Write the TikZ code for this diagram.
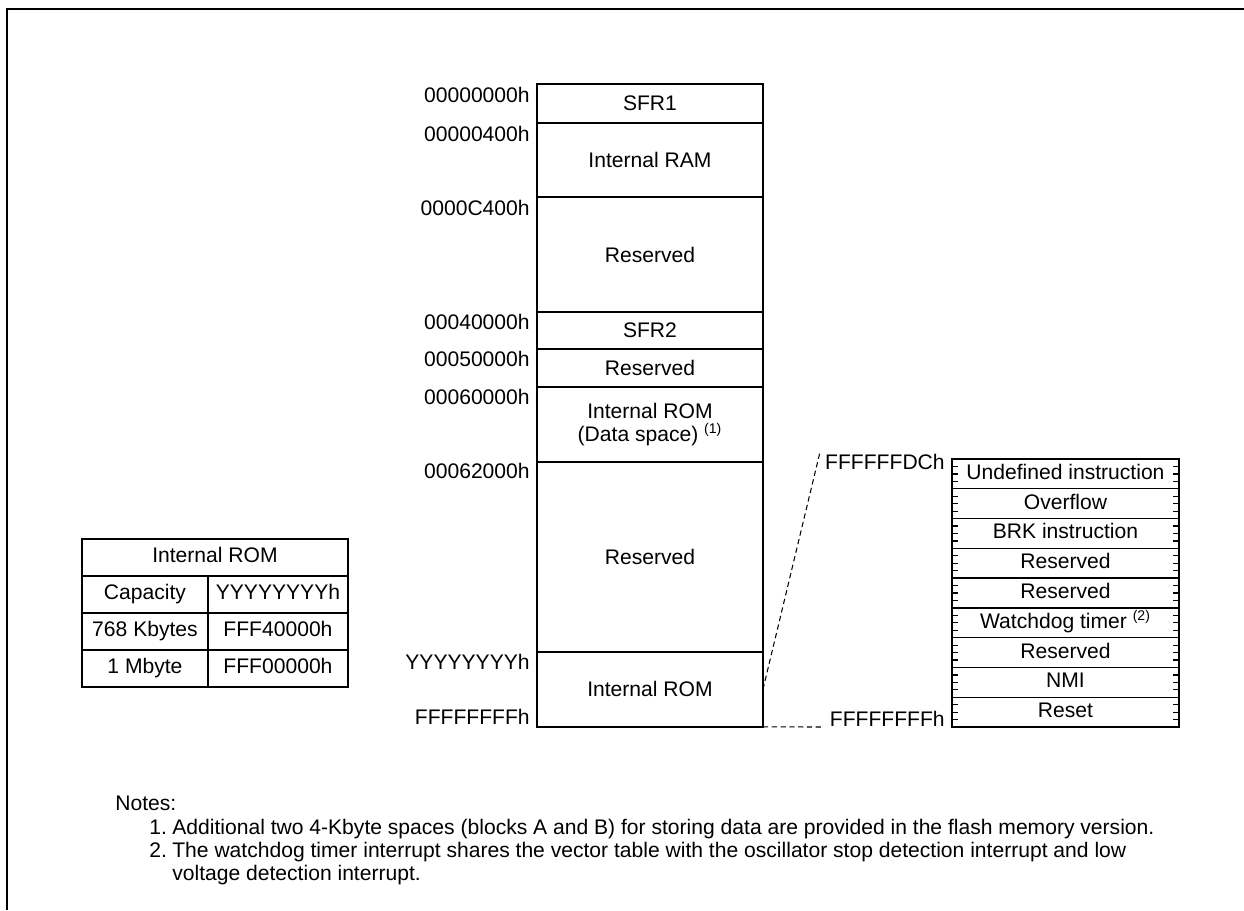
\documentclass[tikz,border=0pt]{standalone}
\usepackage{fontspec}
\setmainfont{Liberation Sans}
\usetikzlibrary{positioning}

\begin{document}
\begin{tikzpicture}[x=0.02cm,y=-0.02cm,
    every node/.style={font=\fontsize{12}{13}\selectfont},
    memrow/.style={draw,line width=0.8pt,minimum width=4.52cm,outer sep=0pt,inner sep=0pt,align=center},
    vecrow/.style={draw,line width=0.8pt,minimum width=4.54cm,minimum height=0.5956cm,outer sep=0pt,inner sep=0pt,text height=8.6pt,text depth=2.4pt},
    cell/.style={draw,line width=0.8pt,minimum height=0.74cm,outer sep=0pt,inner sep=0pt,text height=8.6pt,text depth=2.4pt},
    addr/.style={anchor=east,inner sep=0pt},
    notetext/.style={anchor=base west,inner sep=0pt}]
    \useasboundingbox (0,0) rectangle (1244,910);
    % frame
    \draw[line width=1.2pt] (7,910) -- (7,9) -- (1244,9);

    % memory map
    \node[memrow,minimum height=0.78cm,anchor=north west] (sfra) at (537,84) {SFR1};
    \node[memrow,minimum height=1.48cm,below=0pt of sfra] (iram) {Internal RAM};
    \node[memrow,minimum height=2.30cm,below=0pt of iram] (resa) {Reserved};
    \node[memrow,minimum height=0.74cm,below=0pt of resa] (sfrb) {SFR2};
    \node[memrow,minimum height=0.76cm,below=0pt of sfrb] (resb) {Reserved};
    \node[memrow,minimum height=1.50cm,below=0pt of resb] (romd) {Internal ROM\\(Data space) \textsuperscript{(1)}};
    \node[memrow,minimum height=3.80cm,below=0pt of romd] (resc) {Reserved};
    \node[memrow,minimum height=1.50cm,below=0pt of resc] (irom) {Internal ROM};

    \node[addr] (adra) at ([xshift=-0.14cm,yshift=-0.21cm]sfra.north west) {00000000h};
    \node[addr] (adrb) at ([xshift=-0.14cm,yshift=-0.21cm]iram.north west) {00000400h};
    \node[addr] (adrc) at ([xshift=-0.14cm,yshift=-0.21cm]resa.north west) {0000C400h};
    \node[addr] (adrd) at ([xshift=-0.14cm,yshift=-0.21cm]sfrb.north west) {00040000h};
    \node[addr] (adre) at ([xshift=-0.14cm,yshift=-0.21cm]resb.north west) {00050000h};
    \node[addr] (adrf) at ([xshift=-0.14cm,yshift=-0.21cm]romd.north west) {00060000h};
    \node[addr] (adrg) at ([xshift=-0.14cm,yshift=-0.19cm]resc.north west) {00062000h};
    \node[addr] (adrh) at ([xshift=-0.14cm,yshift=-0.19cm]irom.north west) {YYYYYYYYh};
    \node[addr] (adri) at ([xshift=-0.14cm,yshift=0.20cm]irom.south west) {FFFFFFFFh};

    % vector table
    \foreach \txt [count=\i] in {Undefined instruction,Overflow,BRK instruction,Reserved,Reserved,{Watchdog timer \textsuperscript{(2)}},Reserved,NMI,Reset}
        \node[vecrow,anchor=north west] (v\i) at (952,{459+29.78*(\i-1)}) {\txt};
    \foreach \i in {1,...,9}
        \foreach \f in {0.25,0.5,0.75} {
            \draw[line width=0.7pt] ([yshift=-\f*0.5956cm]v\i.north west) -- ++(6,0);
            \draw[line width=0.7pt] ([yshift=-\f*0.5956cm]v\i.north east) -- ++(-6,0);
        }
    \node[addr] (vtop) at ([xshift=-0.14cm,yshift=-0.05cm]v1.north west) {FFFFFFDCh};
    \node[addr] (vbot) at ([xshift=-0.14cm,yshift=0.17cm]v9.south west) {FFFFFFFFh};

    \coordinate (dtop) at (820,452);
    \coordinate (dbot) at (821,727);
    \draw[line width=0.6pt,dash pattern=on 3pt off 2pt] (irom.east) -- (dtop);
    \draw[line width=0.6pt,dash pattern=on 3pt off 2pt] (irom.south east) -- (dbot);

    % internal ROM table
    \node[cell,minimum width=5.32cm,anchor=north west] (rhdr) at (82,539) {Internal ROM};
    \node[cell,minimum width=2.52cm,anchor=north west] (rcap) at (rhdr.south west) {Capacity};
    \node[cell,minimum width=2.80cm,right=0pt of rcap] (rstart) {YYYYYYYYh};
    \node[cell,minimum width=2.52cm,below=0pt of rcap] (rkb) {768 Kbytes};
    \node[cell,minimum width=2.80cm,right=0pt of rkb] (rkbadr) {FFF40000h};
    \node[cell,minimum width=2.52cm,below=0pt of rkb] (rmb) {1 Mbyte};
    \node[cell,minimum width=2.80cm,right=0pt of rmb] (rmbadr) {FFF00000h};

    % notes
    \node[notetext] (notes) at (115,810) {Notes:};
    \node[notetext] (noa) at (149,834) {1.};
    \node[notetext] (nta) at (172,834) {Additional two 4-Kbyte spaces (blocks A and B) for storing data are provided in the flash memory version.};
    \node[notetext] (nob) at (149,857) {2.};
    \node[notetext] (ntb) at (172,857) {The watchdog timer interrupt shares the vector table with the oscillator stop detection interrupt and low};
    \node[notetext] (ntc) at (172,880) {voltage detection interrupt.};
\end{tikzpicture}
\end{document}
